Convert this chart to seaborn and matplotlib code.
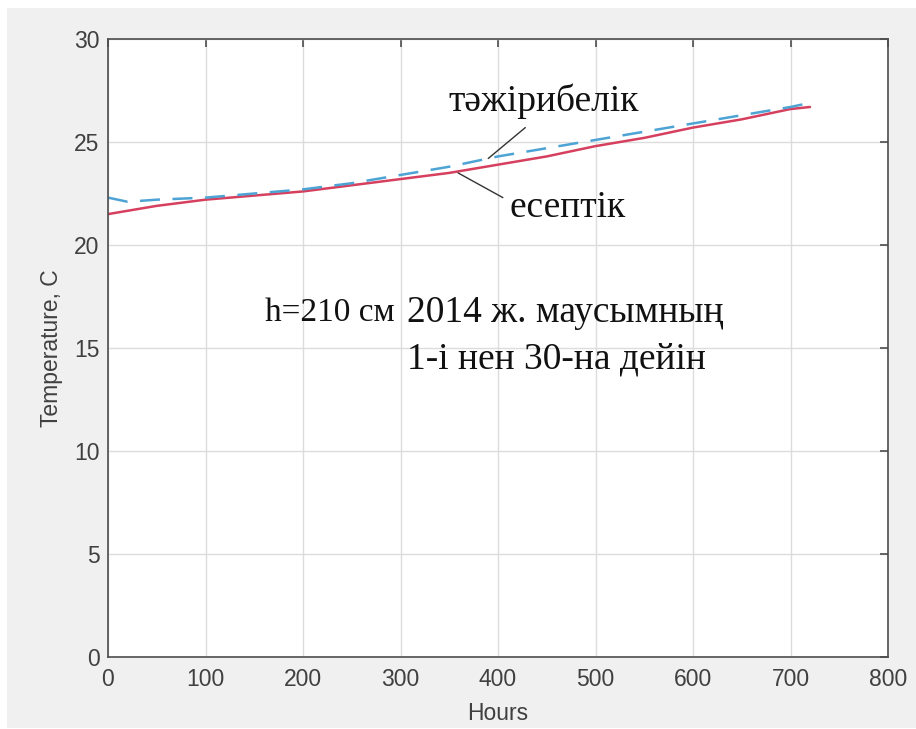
import matplotlib
matplotlib.use("Agg")
import matplotlib.pyplot as plt
import seaborn as sns
import pandas as pd
from matplotlib.patches import Rectangle

# Data
hours_calc = [0, 50, 100, 150, 200, 250, 300, 350, 400, 450, 500, 550, 600, 650, 700, 720]
temp_calc = [21.5, 21.9, 22.2, 22.4, 22.6, 22.9, 23.2, 23.5, 23.9, 24.3, 24.8, 25.2, 25.7, 26.1, 26.6, 26.7]
hours_exp = [0, 20, 50, 100, 150, 200, 250, 300, 350, 400, 450, 500, 550, 600, 650, 700, 720]
temp_exp = [22.3, 22.1, 22.2, 22.3, 22.5, 22.7, 23.0, 23.4, 23.8, 24.3, 24.7, 25.1, 25.5, 25.9, 26.3, 26.7, 26.9]
x_ticks = [0, 100, 200, 300, 400, 500, 600, 700, 800]
y_ticks = [0, 5, 10, 15, 20, 25, 30]

sns.set_style("white")
plt.rcParams['font.family'] = ['Liberation Sans', 'DejaVu Sans']

fig = plt.figure(figsize=(9.16, 7.29), dpi=100, facecolor='white')
fig.patches.append(Rectangle((7 / 916, 1 / 729), 1 - 7 / 916, 1 - 9 / 729,
                             transform=fig.transFigure, facecolor='#f0f0f0',
                             edgecolor='none', zorder=-10))
ax = fig.add_axes([108 / 916, 1 - 657 / 729, 780 / 916, 618 / 729])
ax.set_facecolor('white')

df_calc = pd.DataFrame({'Hours': hours_calc, 'Temp': temp_calc})
df_exp = pd.DataFrame({'Hours': hours_exp, 'Temp': temp_exp})
sns.lineplot(data=df_calc, x='Hours', y='Temp', ax=ax, color='#d6405e', linewidth=1.8)
sns.lineplot(data=df_exp, x='Hours', y='Temp', ax=ax, color='#4da3d4', linewidth=1.8,
             linestyle=(0, (8, 5)))

ax.set_xlim(0, 800)
ax.set_ylim(0, 30)
ax.set_xticks(x_ticks)
ax.set_yticks(y_ticks)
ax.grid(True, color='#dcdcdc', linewidth=1.0)
for s in ax.spines.values():
    s.set_color('#4d4d4d')
    s.set_linewidth(1.2)
ax.tick_params(direction='in', top=True, right=True, length=6, width=1.2,
               color='#4d4d4d', labelsize=16.5, labelcolor='#404040')
ax.tick_params(axis='x', pad=8)
ax.tick_params(axis='y', pad=6)
ax.set_xlabel('Hours', fontsize=16.5, color='#404040', labelpad=8)
ax.set_ylabel('Temperature, C', fontsize=16.5, color='#404040', labelpad=8)

serif = ['Liberation Serif', 'DejaVu Serif']
ax.text(447, 27.0, 'тәжірибелік', fontsize=27, family=serif, ha='center', va='center', color='#111111')
ax.plot([428, 390], [25.7, 24.2], color='#333333', linewidth=1.0)
ax.text(471, 21.8, 'есептік', fontsize=27, family=serif, ha='center', va='center', color='#111111')
ax.plot([359, 405], [23.5, 22.3], color='#333333', linewidth=1.0)

ax.text(161, 16.7, 'h=210 см', fontsize=24, family=serif, ha='left', va='center', color='#111111')
ax.text(307, 16.7, '2014 ж. маусымның', fontsize=27, family=serif, ha='left', va='center', color='#111111')
ax.text(307, 14.45, '1-і нен 30-на дейін', fontsize=27, family=serif, ha='left', va='center', color='#111111')

fig.savefig('out.png', dpi=100, facecolor=fig.get_facecolor())
